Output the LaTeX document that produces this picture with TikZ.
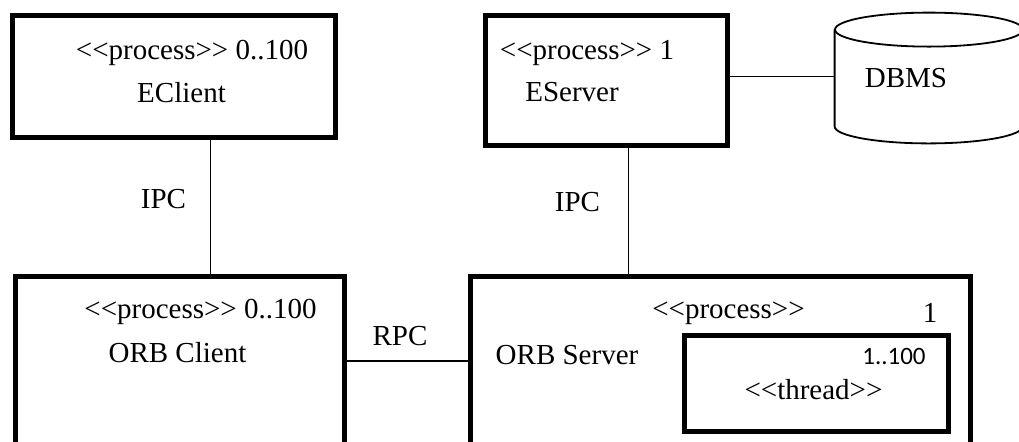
\documentclass[tikz,border=0pt]{standalone}
\usepackage{fontspec}
\setmainfont{Liberation Serif}[Ligatures=TeXOff]
\newfontfamily\numfont{Carlito}
\usepackage{tikz}
\usetikzlibrary{positioning}

\begin{document}
\begin{tikzpicture}[x=0.5pt, y=-0.5pt, font=\fontsize{14.5}{16}\selectfont,
        procbox/.style={rectangle, draw=black, line width=2.5pt, anchor=north west, inner sep=0pt},
        link/.style={draw=black, line width=0.9pt}]
            \useasboundingbox (0, 0) rectangle (1019, 441);
            \clip (0, 0) rectangle (1019, 441);

            % processes and thread
            \node[procbox, minimum width=161.5pt, minimum height=61pt] (eclient) at (10, 13) {};
            \node[procbox, minimum width=121pt, minimum height=65pt] (eserver) at (483, 13) {};
            \node[procbox, minimum width=164.5pt, minimum height=84.5pt] (orbclient) at (13, 274) {};
            \node[procbox, minimum width=250pt, minimum height=84.5pt] (orbserver) at (468, 274) {};
            \node[procbox, minimum width=132pt, minimum height=48pt] (thread) at (682, 333) {};

            % database
            \node[minimum width=94pt, minimum height=65pt, inner sep=0pt] (dbms) at (929, 78) {};
            \draw[link] ([yshift=-8.5pt]dbms.north) ellipse [x radius=47pt, y radius=8.5pt];
            \draw[link] ([yshift=-8.5pt]dbms.north west) -- ([yshift=8.5pt]dbms.south west)
                arc[start angle=180, end angle=360, x radius=47pt, y radius=8.5pt] -- ([yshift=-8.5pt]dbms.north east);

            % texts
            \node (eclientst) at (192, 53) {<<process>> 0..100};
            \node (eclientname) at (181.5, 93) {EClient};
            \node (eserverst) at (587, 53) {<<process>> 1};
            \node (eservername) at (572, 92) {EServer};
            \node (dbmsname) at (906, 78) {DBMS};
            \node (orbclientst) at (200.5, 312) {<<process>> 0..100};
            \node (orbclientname) at (177.5, 353) {ORB Client};
            \node (orbserverst) at (728.5, 313) {<<process>>};
            \node (orbservermult) at (930, 313) {1};
            \node (orbservername) at (567, 355) {ORB Server};
            \node[font=\numfont\fontsize{12.5}{14}\selectfont] (threadmult) at (894, 356) {1..100};
            \node (threadst) at (813.5, 390) {<<thread>>};

            % connectors
            \draw[link] ([xshift=18.25pt]eclient.south) -- ([xshift=18.25pt]eclient.south |- orbclient.north);
            \draw[link] ([xshift=11pt]eserver.south) -- ([xshift=11pt]eserver.south |- orbserver.north);
            \draw[link] ([yshift=2pt]eserver.east) -- ([yshift=2pt]eserver.east -| dbms.west);
            \draw[link] (orbclient.east) -- (orbserver.west);
            \node (ipcleft) at (163.5, 199) {IPC};
            \node (ipcright) at (577.5, 202) {IPC};
            \node (rpc) at (400, 336) {RPC};
        \end{tikzpicture}
\end{document}
